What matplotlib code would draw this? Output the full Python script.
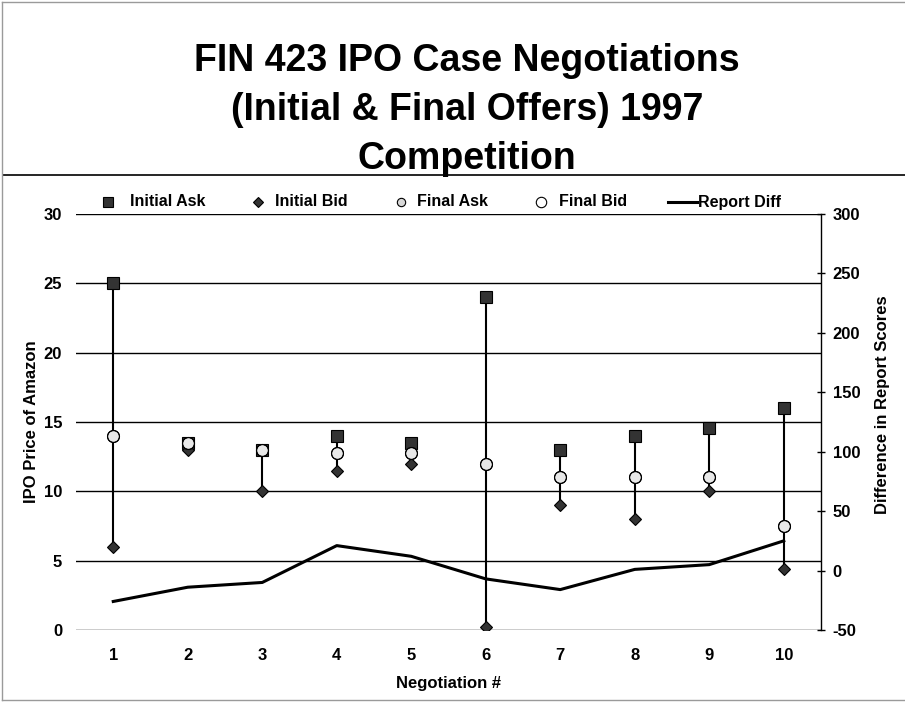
import matplotlib
matplotlib.use('Agg')
import matplotlib.pyplot as plt
from matplotlib.lines import Line2D

# values
negotiation = [1, 2, 3, 4, 5, 6, 7, 8, 9, 10]
initial_ask = [25, 13.5, 13, 14, 13.5, 24, 13, 14, 14.6, 16]
initial_bid = [6, 13, 10, 11.5, 12, 0.25, 9, 8, 10, 4.4]
final_ask = [14, 13.5, 13, 12.75, 12.75, 12, 11, 11, 11, 7.5]
final_bid = [14, 13.5, 13, 12.75, 12.75, 12, 11, 11, 11, 7.5]
report_diff = [-26, -14, -10, 21, 12, -7, -16, 1, 5, 25]

price_ticks = [0, 5, 10, 15, 20, 25, 30]
diff_ticks = [-50, 0, 50, 100, 150, 200, 250, 300]

plt.rcParams['font.family'] = ['Liberation Sans', 'DejaVu Sans']
plt.rcParams['font.weight'] = 'bold'
plt.rcParams['axes.unicode_minus'] = False

W, H = 905, 702
fig = plt.figure(figsize=(W / 100, H / 100), dpi=100)
ax = fig.add_axes([76 / W, 1 - 630 / H, (821 - 76) / W, (630 - 214) / H])

# price axis (left)
ax.set_xlim(0.5, 10.5)
ax.set_ylim(0, 30)
ax.set_yticks(price_ticks)
ax.set_xticks(negotiation)
ax.grid(axis='y', color='black', lw=1)
ax.set_axisbelow(True)
for s in ax.spines.values():
    s.set_visible(False)
ax.tick_params(axis='y', length=0, pad=10, labelsize=12)
ax.tick_params(axis='x', length=0, pad=13, labelsize=12)
ax.set_xlabel('Negotiation #', fontsize=12, fontweight='bold', labelpad=9)

ax.vlines(negotiation, initial_bid, initial_ask, color='black', lw=1.5, zorder=3)
ax.plot(negotiation, initial_ask, 's', ms=8.6, mfc='#333333', mec='black', mew=0.8, zorder=4)
ax.plot(negotiation, initial_bid, 'D', ms=6.2, mfc='#333333', mec='black', mew=0.8, zorder=4)
ax.plot(negotiation, final_ask, 'o', ms=8.6, mfc='#e8e8e8', mec='black', mew=0.8, zorder=5)
ax.plot(negotiation, final_bid, 'o', ms=8.6, mfc='none', mec='black', mew=0.8, zorder=5)

# report score difference (right)
ax2 = ax.twinx()
ax2.set_ylim(-50, 300)
ax2.set_yticks(diff_ticks)
for name in ['left', 'top', 'bottom']:
    ax2.spines[name].set_visible(False)
ax2.spines['right'].set_linewidth(1)
ax2.tick_params(axis='y', direction='inout', length=6, width=1, pad=5.5, labelsize=12)
ax2.plot(negotiation, report_diff, color='black', lw=2.2)

fig.text(32 / W, 1 - 422 / H, 'IPO Price of Amazon', rotation=90, ha='center', va='center',
         fontsize=12, fontweight='bold')
fig.text(882 / W, 1 - 405 / H, 'Difference in Report Scores', rotation=90, ha='center',
         va='center', fontsize=12, fontweight='bold')

# title and the rule under it
fig.text(467 / W, 1 - 110 / H, 'FIN 423 IPO Case Negotiations\n(Initial & Final Offers) 1997\nCompetition',
         ha='center', va='center', fontsize=27, fontweight='bold', linespacing=1.45)
fig.add_artist(Line2D([3 / W, 1], [1 - 175 / H] * 2, color='black', lw=1.2, zorder=0))

# legend row
ly = 1 - 202 / H
legend_items = [
    (108, 130, 'Initial Ask', dict(marker='s', ms=7, mfc='#333333', mec='black', mew=0.8, ls='none')),
    (258, 275, 'Initial Bid', dict(marker='D', ms=5.5, mfc='#333333', mec='black', mew=0.8, ls='none')),
    (401, 417, 'Final Ask', dict(marker='o', ms=6, mfc='#d8d8d8', mec='black', mew=0.8, ls='none')),
    (541, 559, 'Final Bid', dict(marker='o', ms=7.5, mfc='white', mec='black', mew=0.8, ls='none')),
]
for mx, tx, label, style in legend_items:
    fig.add_artist(Line2D([mx / W], [ly], **style))
    fig.text(tx / W, ly, label, ha='left', va='center', fontsize=11.5, fontweight='bold')
fig.add_artist(Line2D([668 / W, 697 / W], [ly, ly], color='black', lw=2.2))
fig.text(698 / W, ly, 'Report Diff', ha='left', va='center', fontsize=11.5, fontweight='bold')

# outer frame (left, top, bottom)
frame = '#9a9a9a'
fig.add_artist(Line2D([2 / W, 2 / W], [2 / H, 1 - 2 / H], color=frame, lw=1))
fig.add_artist(Line2D([2 / W, 1], [1 - 2 / H] * 2, color=frame, lw=1))
fig.add_artist(Line2D([2 / W, 1], [2 / H] * 2, color=frame, lw=1))

fig.savefig('out.png', dpi=100)
